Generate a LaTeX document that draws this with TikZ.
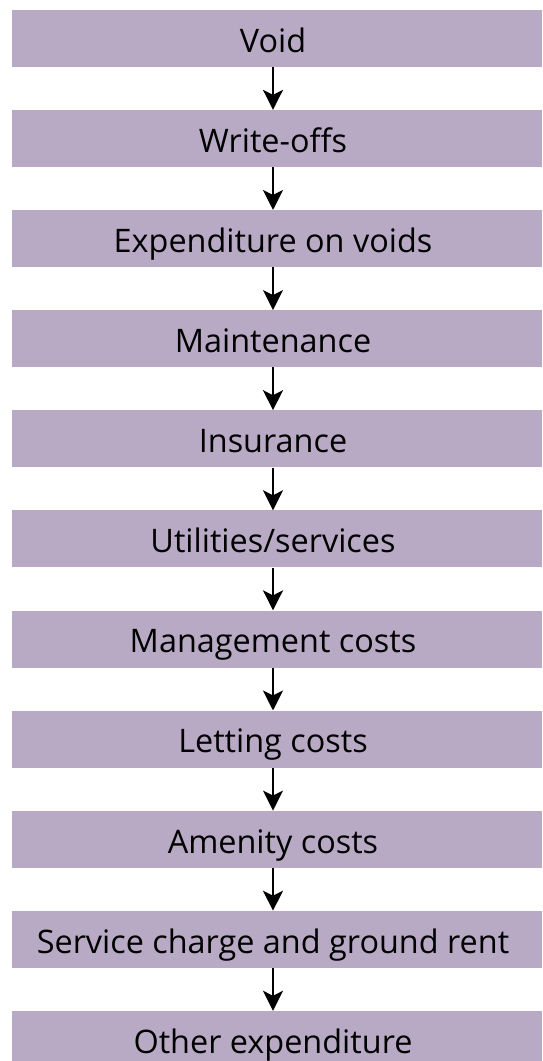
\documentclass[tikz,border=0pt]{standalone}
\usepackage{fontspec}
\setmainfont{Open Sans}
\usetikzlibrary{arrows.meta}
\definecolor{boxfill}{RGB}{184,170,196}
\tikzset{
  stepbox/.style={rectangle, fill=boxfill, inner sep=0pt,
    minimum width=530pt, minimum height=57pt,
    text height=28pt, text depth=0.4pt,
    font=\fontsize{32.4pt}{38pt}\selectfont,
    execute at begin node={\hspace*{-8pt}}},
  flow/.style={line width=2pt, -{Stealth[length=20pt,width=20pt,inset=5pt]}}
}
\begin{document}
\begin{tikzpicture}[x=1pt,y=1pt]
\useasboundingbox (0,0) rectangle (542,1061);
\clip (0,0) rectangle (542,1061);
\foreach \i/\t in {0/Void, 1/Write-offs, 2/Expenditure on voids, 3/Maintenance,
  4/Insurance, 5/Utilities\slash services, 6/Management costs, 7/Letting costs,
  8/Amenity costs, 9/Service charge and ground rent, 10/Other expenditure}
  \node[stepbox] (b\i) at (277, {1061-38.5-100.1*\i}) {\t};
\foreach \i [evaluate=\i as \j using int(\i+1)] in {0,...,9}
  \draw[flow] ([xshift=-4pt]b\i.south) -- ([xshift=-4pt]b\j.north);
\end{tikzpicture}
\end{document}
